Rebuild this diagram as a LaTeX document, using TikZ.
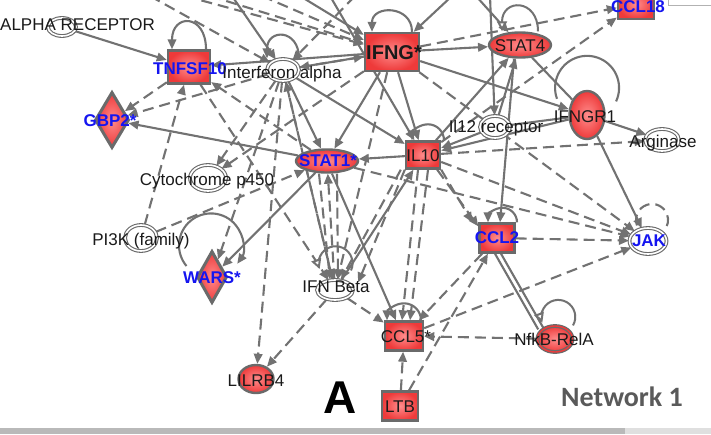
\documentclass[tikz,border=0pt]{standalone}
\usepackage{fontspec}
\setmainfont{Liberation Sans}
\newfontfamily\netfont{Carlito}
\usetikzlibrary{arrows.meta,shapes.geometric,backgrounds}
\pgfdeclarelayer{bottom}
\pgfsetlayers{bottom,background,main}
\definecolor{ec}{HTML}{727272}
\definecolor{bdr}{HTML}{6A6A6A}
\definecolor{rin}{HTML}{FF8C8C}
\definecolor{rout}{HTML}{EE3A3A}
\definecolor{lblue}{HTML}{1515F0}
\definecolor{txt}{HTML}{1A1A1A}
\definecolor{netgray}{HTML}{5A5A5A}
\tikzset{
  lbl/.style={font=\fontsize{17}{17}\selectfont, inner sep=0pt, text=txt},
  blbl/.style={font=\fontsize{17}{17}\selectfont\bfseries, inner sep=0pt, text=lblue},
  redbox/.style={rectangle, draw=bdr, line width=2.4pt, inner color=rin, outer color=rout, inner sep=0pt},
  redell/.style={ellipse, draw=bdr, line width=2.4pt, inner color=rin, outer color=rout, inner sep=0pt},
  reddiam/.style={diamond, draw=bdr, line width=3pt, inner color=rin, outer color=rout, inner sep=0pt},
  dell/.style={ellipse, draw=bdr, line width=1.1pt, double=white, double distance=1.6pt, fill=white, inner sep=0pt},
  sz/.style 2 args={minimum width=#1pt, minimum height=#2pt},
  sol/.style={draw=ec, line width=2.1pt, -{Triangle[length=10pt,width=8.5pt]}},
  das/.style={sol, dash pattern=on 11pt off 6pt},
  pl/.style={draw=ec, line width=2.1pt},
  pld/.style={pl, dash pattern=on 11pt off 6pt},
  opn/.style={draw=ec, line width=2pt, -{Triangle[open,length=10pt,width=10pt,fill=white]}},
}
\begin{document}
\begin{tikzpicture}[x=1pt,y=-1pt]
\useasboundingbox (0,0) rectangle (711,434);
\clip (0,0) rectangle (711,434);
\begin{pgfonlayer}{bottom}
\fill[white] (0,0) rectangle (711,434);
\end{pgfonlayer}

% ---------- nodes ----------
\node[dell, sz={28}{18}] (alpha) at (62,27) {};
\node[lbl, anchor=west] (alphaL) at (0,25) {ALPHA RECEPTOR};
\node[redbox, sz={42}{33}] (tnf) at (189,67) {};
\node[blbl] (tnfL) at (190,69) {TNFSF10};
\node[dell, sz={32}{22}] (ifna) at (283,70) {};
\node[lbl] (ifnaL) at (282,74) {Interferon alpha};
\node[redbox, sz={54}{38}] (ifng) at (392,52) {};
\node[font=\fontsize{20}{20}\selectfont\bfseries, inner sep=0pt, text=txt] (ifngL) at (394,53) {IFNG*};
\node[redell, sz={62}{25}] (stat4) at (520,45) {};
\node[lbl] (stat4L) at (520,46) {STAT4};
\node[redbox, sz={36}{30}] (ccl18) at (636,4) {};
\node[blbl] (ccl18L) at (638,7) {CCL18};
\node[redell, sz={35}{48}] (ifngr1) at (587,115) {};
\node[lbl] (ifngr1L) at (585,117) {IFNGR1};
\node[dell, sz={30}{22}] (il12) at (495,127) {};
\node[lbl] (il12L) at (496,128) {Il12 receptor};
\node[dell, sz={34}{22}] (arg) at (662,140) {};
\node[lbl] (argL) at (663,143) {Arginase};
\node[reddiam, sz={34}{56}] (gbp2) at (112,120) {};
\node[blbl] (gbp2L) at (110,121) {GBP2*};
\node[redell, sz={62}{23}] (stat1) at (327,161) {};
\node[blbl] (stat1L) at (328,161) {STAT1*};
\node[redbox, sz={34}{27}] (il10) at (423,155) {};
\node[lbl] (il10L) at (423,156) {IL10};
\node[dell, sz={36}{26}] (cyto) at (208,178) {};
\node[lbl] (cytoL) at (207,181) {Cytochrome p450};
\node[dell, sz={32}{26}] (pi3k) at (141,238) {};
\node[lbl] (pi3kL) at (141,241) {PI3K (family)};
\node[reddiam, sz={30}{52}] (wars) at (212,277) {};
\node[blbl] (warsL) at (212,278) {WARS*};
\node[dell, sz={36}{20}] (ifnb) at (335,290) {};
\node[lbl] (ifnbL) at (336,287) {IFN Beta};
\node[redbox, sz={35}{29}] (ccl2) at (497,238) {};
\node[blbl] (ccl2L) at (497,238) {CCL2};
\node[dell, sz={37}{26}] (jak) at (648,241) {};
\node[blbl] (jakL) at (649,241) {JAK};
\node[redbox, sz={38}{29}] (ccl5) at (404,336) {};
\node[lbl] (ccl5L) at (406,337) {CCL5*};
\node[redell, sz={35}{26}, line width=1.2pt, double=rout, double distance=1.4pt] (nfkb) at (555,339) {};
\node[lbl] (nfkbL) at (554,339) {NfkB-RelA};
\node[redell, sz={35}{28}] (lilrb4) at (256,379) {};
\node[lbl] (lilrb4L) at (256,381) {LILRB4};
\node[redbox, sz={36}{29}] (ltb) at (400,406) {};
\node[lbl] (ltbL) at (400,407) {LTB};
\node[font=\fontsize{46}{46}\selectfont\bfseries, inner sep=0pt, text=black] (bigA) at (340,398) {A};
\node[font=\netfont\fontsize{28}{28}\selectfont\bfseries, inner sep=0pt, text=netgray] (netL) at (622,397) {Network 1};

% off-picture ends at the top
\coordinate (t1) at (150,-4);
\coordinate (t2) at (185,-4);
\coordinate (t3) at (232,-4);
\coordinate (t4) at (262,-4);
\coordinate (t5) at (300,-4);
\coordinate (t6) at (330,-4);
\coordinate (t7) at (452,-4);
\coordinate (t8) at (476,-4);
\coordinate (t9) at (490,-4);
\coordinate (t10) at (210,-4);
\coordinate (t11) at (355,-4);

\begin{pgfonlayer}{background}
% solid connectors
\draw[sol] (alpha) -- (tnf);
\draw[sol] (stat1) -- (gbp2);
\draw[sol] (ifng) -- (stat4);
\draw[sol] (ifng) -- (ifngr1);
\draw[pl] (stat4) -- (ifngr1);
\draw[sol] (ifngr1) -- (arg);
\draw[sol] (ifngr1) -- (jak);
\draw[pl] (il12) -- (ifngr1);
\draw[sol] ([xshift=-6pt]stat4.south) -- ([xshift=3pt]ccl2.north);
\draw[sol] ([xshift=5pt]stat1.south) -- ([xshift=-8pt]ccl5.north);
\draw[sol] (stat1) -- (wars);
\draw[sol] (ifng) -- (stat1);
\draw[sol] (ifng) -- (il10);
\draw[sol] (ifna) -- (stat1);
\draw[sol] (ifnb) -- (il10);
\draw[sol] (ifngr1) -- (il10);
\draw[sol] (il12) -- (il10);
\draw[sol] (ifng) -- (tnf);
\draw[sol] (il10) -- (stat4);
\draw[sol] (il12) -- (stat4);
\draw[sol] (ifng) -- (ifna);
\draw[sol] (ifna) -- (il10);
\draw[sol] (il10) -- (stat1);
\draw[sol] (t3) -- (ifna);
\draw[sol] (t5) -- (ifng);
\draw[sol] (t6) -- (il10);
\draw[sol] (t7) -- (ifng);
\draw[sol] (t8) -- (stat4);
\draw[sol] (t9) -- (il12);
% dashed connectors
\draw[das] (ifna) -- (ifng);
\draw[das] (ifna) -- (gbp2);
\draw[das] (tnf) -- (gbp2);
\draw[das] (pi3k) -- (tnf);
\draw[das] (stat1) -- (tnf);
\draw[das] (ifna) -- (cyto);
\draw[das] (ifng) -- (cyto);
\draw[das] (pi3k) -- (stat1);
\draw[das] (ifna) -- (lilrb4);
\draw[das] (ifnb) -- (lilrb4);
\draw[das] (ifna) -- (wars);
\draw[das] ([xshift=-8pt]stat1.south) -- ([xshift=-5pt]ifnb.north);
\draw[das] ([xshift=10pt]stat1.south) -- ([xshift=3pt]ifnb.north);
\draw[das] (ifna) -- (ifnb);
\draw[das] ([xshift=-4pt]il10.south west) -- ([xshift=6pt]ifnb.north);
\draw[das] (il10.south west) -- ([xshift=10pt]ifnb.north east);
\draw[das] (ifnb) -- (ccl5);
\draw[das] ([xshift=-5pt]il10.south) -- ([xshift=-2pt]ccl5.north);
\draw[das] ([xshift=5pt]il10.south) -- ([xshift=6pt]ccl5.north);
\draw[das] (ltb) -- (ccl5);
\draw[das] (nfkb) -- (ccl5);
\draw[das] (ltb) -- (ccl2);
\draw[das] (ccl2) -- (ccl5);
\draw[das] (il10.south east) -- ([xshift=-6pt]ccl2.north west);
\draw[das] ([xshift=-4pt]il10.south east) -- ([yshift=-4pt]ccl2.north west);
\draw[das] (il10) -- (jak);
\draw[das] (stat1) -- (jak);
\draw[das] (ifng) -- (jak);
\draw[das] (ccl2) -- (jak);
\draw[das] (ccl5) -- (jak);
\draw[das] (il10) -- (arg);
\draw[das] (ifng) -- (ccl18);
\draw[das] (il10) -- (ccl18);
\draw[das] (ifnb) -- (stat1);
\draw[das] (tnf) -- (ifnb);
\draw[das] (ifnb) -- (ifna);
\draw[das] (ifng) -- (ifnb);
\draw[das] (t1) -- (ifna);
\draw[das] (t2) -- (ifng);
\draw[das] (t4) -- (ifng);
\draw[das] (t10) -- (ifng);
\draw[das] (t11) -- (ifna);
% binding (no arrow)
\draw[pl] ([xshift=-2pt]ccl2.south) -- ([xshift=-4pt]nfkb.north west);
\draw[pl] ([xshift=4pt]ccl2.south) -- ([xshift=2pt]nfkb.north west);
% self loops
\draw[sol] ([xshift=17pt]tnf.north) .. controls +(90:36pt) and +(90:36pt) .. ([xshift=-17pt]tnf.north);
\draw[sol] ([xshift=16pt]ifna.north) .. controls +(90:30pt) and +(90:30pt) .. ([xshift=-16pt]ifna.north);
\draw[sol] ([xshift=20pt]ifng.north) .. controls +(90:27pt) and +(90:27pt) .. ([xshift=-20pt]ifng.north);
\draw[opn] ([xshift=18pt]stat4.north) .. controls +(90:33pt) and +(90:33pt) .. ([xshift=-18pt]stat4.north);
\draw[pl] ([xshift=-30pt,yshift=-9pt]ifngr1.north) arc[start angle=200, end angle=-25, radius=32pt];
\draw[sol] ([xshift=21pt]il10.north) arc[start angle=0, end angle=180, radius=16pt];
\draw[sol] ([xshift=20pt]ccl2.north) arc[start angle=0, end angle=180, radius=14.5pt];
\draw[sol] ([xshift=17pt]ccl5.north) arc[start angle=0, end angle=180, radius=17pt];
\draw[opn] ([xshift=16pt,yshift=9pt]ifnb.north) arc[start angle=-25, end angle=200, radius=17pt];
\draw[opn] ([xshift=18pt]nfkb.north) arc[start angle=-30, end angle=200, radius=17pt];
\draw[pld] ([xshift=-11pt,yshift=2pt]jak.north) arc[start angle=200, end angle=-40, radius=16pt];
\draw[sol] ([xshift=-9pt,yshift=11pt]wars.west) arc[start angle=220, end angle=-35, radius=32pt];
\end{pgfonlayer}

% frame remnants
\fill[gray!55] (0,428) rectangle (625,434);
\fill[gray!25] (625,428) rectangle (711,434);
\draw[gray!60, line width=1pt] (668,0) -- (668,5) -- (711,5);
\end{tikzpicture}
\end{document}
